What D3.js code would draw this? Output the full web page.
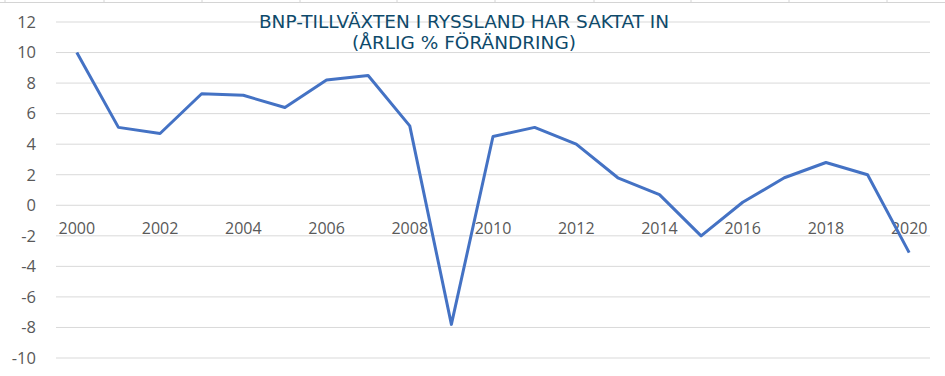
<!DOCTYPE html>
<html>
<head>
<meta charset="utf-8">
<script src="https://cdn.jsdelivr.net/npm/d3@7"></script>
<style>
  body { margin: 0; background: #fff; }
</style>
</head>
<body>
<script>
const years = d3.range(2000, 2021);
const growth = [10.0, 5.1, 4.7, 7.3, 7.2, 6.4, 8.2, 8.5, 5.2, -7.8, 4.5, 5.1, 4.0, 1.8, 0.7, -2.0, 0.2, 1.8, 2.8, 2.0, -3.1];
const yTicks = d3.range(-10, 13, 2);
const titleLines = ["BNP-TILLVÄXTEN I RYSSLAND HAR SAKTAT IN", "(ÅRLIG % FÖRÄNDRING)"];
const cellEdges = [5, 104, 202, 300, 397, 495, 594, 691, 789, 887];

const W = 945, H = 376;
const padL = 56, padR = 930, padT = 22, padB = 358;

const svg = d3.select("body").append("svg")
    .attr("width", W)
    .attr("height", H);

// spreadsheet cell borders peeking in at the top
svg.append("line")
    .attr("x1", 0).attr("x2", W).attr("y1", 2.5).attr("y2", 2.5)
    .attr("stroke", "#d4d4d4");
svg.append("g").selectAll("line")
    .data(cellEdges)
    .enter().append("line")
    .attr("x1", d => d).attr("x2", d => d)
    .attr("y1", 0).attr("y2", 3)
    .attr("stroke", "#d4d4d4");

const xScale = d3.scaleBand(years, [padL, padR]);
const yScale = d3.scaleLinear([-10, 12], [padB, padT]);

// gridlines
svg.append("g")
    .selectAll("line")
    .data(yTicks)
    .enter().append("line")
    .attr("x1", padL).attr("x2", padR)
    .attr("y1", d => yScale(d)).attr("y2", d => yScale(d))
    .attr("stroke", "#d9d9d9")
    .attr("stroke-width", 1);

// y axis labels (plain hyphen, like excel)
const yAxis = svg.append("g")
    .attr("transform", `translate(${padL - 20}, 0)`)
    .call(d3.axisLeft(yScale).tickValues(yTicks).tickFormat(d => String(d)).tickSize(0).tickPadding(0));
yAxis.select(".domain").remove();
yAxis.selectAll("text")
    .attr("fill", "#595959")
    .style("font-family", "'Open Sans', sans-serif")
    .style("font-size", "16.5px");

// x axis labels, every other year, just under the zero line
const xAxis = svg.append("g")
    .attr("transform", `translate(0, ${yScale(0)})`)
    .call(d3.axisBottom(xScale).tickValues(years.filter(y => y % 2 == 0)).tickSize(0).tickPadding(17));
xAxis.select(".domain").remove();
xAxis.selectAll("text")
    .attr("fill", "#595959")
    .style("font-family", "'Open Sans', sans-serif")
    .style("font-size", "16px");

// line
const dMaker = d3.line()
    .x((d, i) => xScale(years[i]) + xScale.bandwidth() / 2)
    .y(d => yScale(d));

svg.append("path")
    .datum(growth)
    .attr("fill", "none")
    .attr("stroke", "#4472C4")
    .attr("stroke-width", 3)
    .attr("stroke-linejoin", "round")
    .attr("d", dMaker);

// title
svg.append("g").selectAll("text")
    .data(titleLines)
    .enter().append("text")
    .attr("x", 464)
    .attr("y", (d, i) => 28 + i * 21)
    .attr("text-anchor", "middle")
    .attr("fill", "#0E4A6B")
    .style("font-family", "'DejaVu Sans', Verdana, sans-serif")
    .style("font-size", "18.5px")
    .text(d => d);
</script>
</body>
</html>
